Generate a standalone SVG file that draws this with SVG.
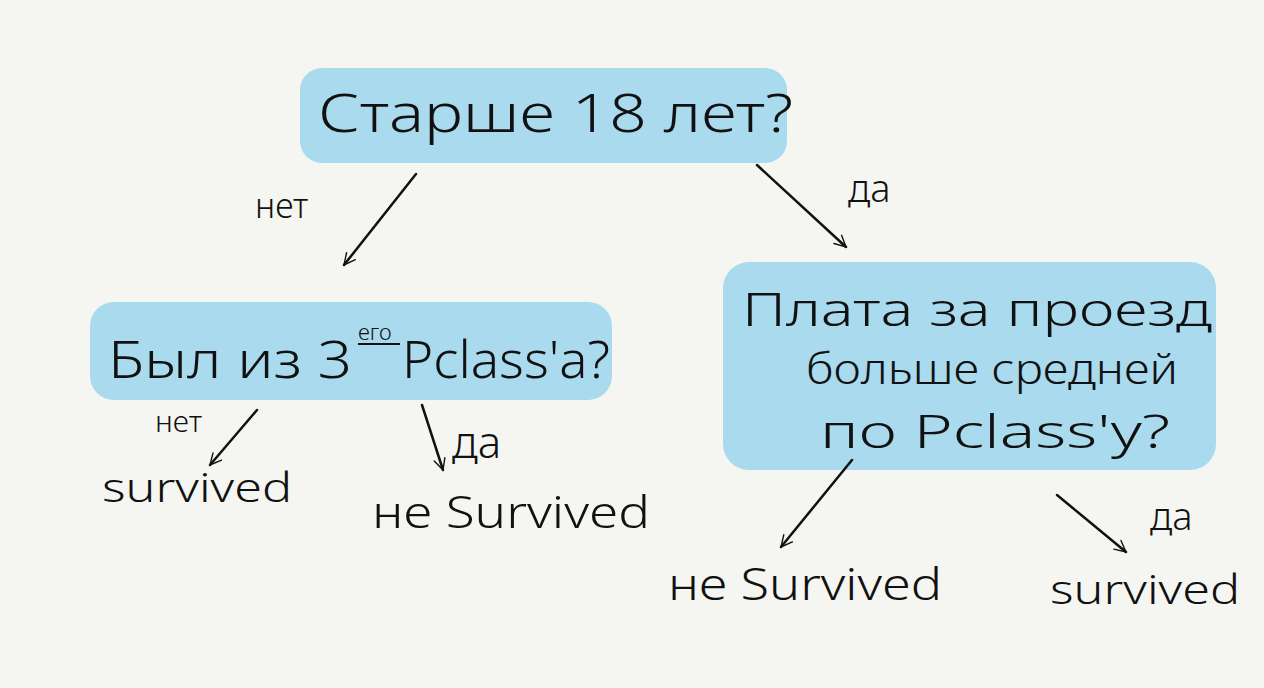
<svg xmlns="http://www.w3.org/2000/svg" width="1264" height="688" viewBox="0 0 1264 688">
<defs>
<style>
.box{fill:#a9daee;}
.t{font-family:"Noto Sans","Liberation Sans",sans-serif;fill:#111;font-weight:300;}
.c{stroke:#111;stroke-width:2.5;fill:none;stroke-linecap:round;marker-end:url(#ah);}
</style>
<marker id="ah" viewBox="0 0 20 20" refX="18" refY="10" markerWidth="14" markerHeight="14" markerUnits="userSpaceOnUse" orient="auto">
<polyline points="2,2 18,10 2,18" fill="none" stroke="#111" stroke-width="2" stroke-linecap="round"/>
</marker>
</defs>
<rect width="1264" height="688" fill="#f5f6f1"/>
<g id="root">
<rect class="box" x="300" y="68" width="487" height="95" rx="22"/>
<text class="t" x="318" y="132" font-size="54" textLength="475" lengthAdjust="spacingAndGlyphs">Старше  18 лет?</text>
</g>
<g id="pclass3">
<rect class="box" x="90" y="302" width="522" height="98" rx="24"/>
<text class="t" x="108" y="378" font-size="52" textLength="244" lengthAdjust="spacingAndGlyphs">Был из 3</text>
<text class="t" x="358" y="340" font-size="22">его</text>
<line x1="358" y1="344" x2="400" y2="344" stroke="#111" stroke-width="2"/>
<text class="t" x="402" y="378" font-size="52" textLength="208" lengthAdjust="spacingAndGlyphs">Pclass'а?</text>
</g>
<g id="fare">
<rect class="box" x="723" y="262" width="493" height="208" rx="26"/>
<text class="t" x="742" y="326" font-size="46" textLength="470" lengthAdjust="spacingAndGlyphs">Плата за проезд</text>
<text class="t" x="806" y="384" font-size="42" textLength="372" lengthAdjust="spacingAndGlyphs">больше средней</text>
<text class="t" x="820" y="448" font-size="46" textLength="350" lengthAdjust="spacingAndGlyphs">по  Pclass'у?</text>
</g>
<g id="leaf1"><text class="t" x="102" y="502" font-size="40" textLength="190" lengthAdjust="spacingAndGlyphs">survived</text></g>
<g id="leaf2"><text class="t" x="372" y="528" font-size="44" textLength="278" lengthAdjust="spacingAndGlyphs">не Survived</text></g>
<g id="leaf3"><text class="t" x="668" y="600" font-size="44" textLength="274" lengthAdjust="spacingAndGlyphs">не Survived</text></g>
<g id="leaf4"><text class="t" x="1050" y="604" font-size="40" textLength="190" lengthAdjust="spacingAndGlyphs">survived</text></g>
<g id="connectors">
<line class="c" x1="416" y1="174" x2="344" y2="265"/>
<line class="c" x1="757" y1="165" x2="846" y2="247"/>
<line class="c" x1="257" y1="410" x2="210" y2="465"/>
<line class="c" x1="422" y1="405" x2="443" y2="470"/>
<line class="c" x1="852" y1="460" x2="781" y2="547"/>
<line class="c" x1="1057" y1="495" x2="1126" y2="552"/>
<text class="t" x="255" y="218" font-size="34">нет</text>
<text class="t" x="848" y="202" font-size="38">да</text>
<text class="t" x="155" y="432" font-size="30">нет</text>
<text class="t" x="452" y="458" font-size="44">да</text>
<text class="t" x="1150" y="530" font-size="38">да</text>
</g>
</svg>
